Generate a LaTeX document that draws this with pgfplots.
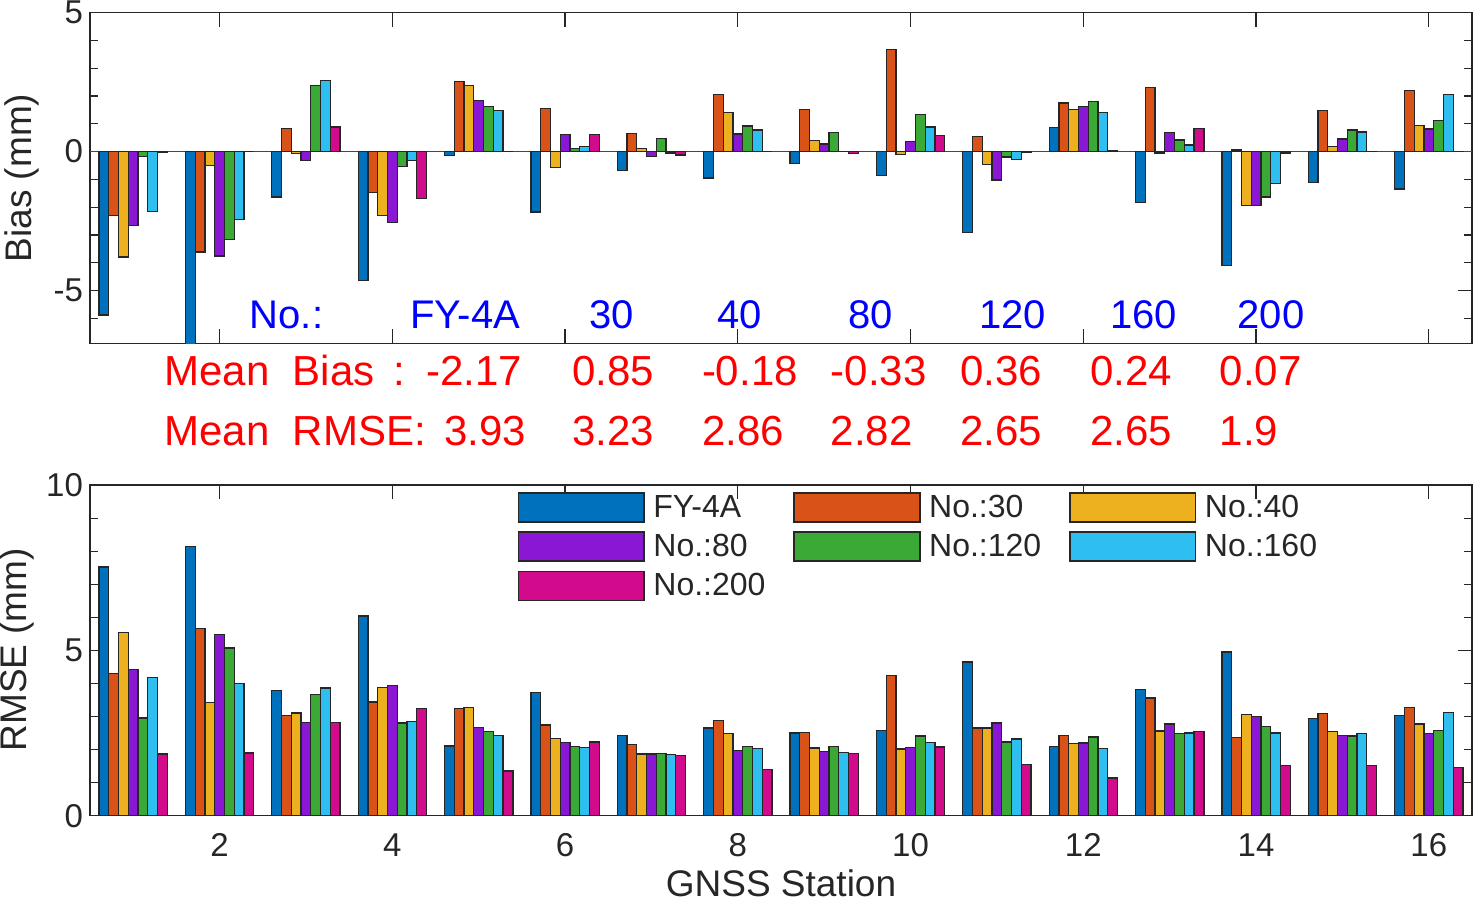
\documentclass[border=0pt]{standalone}
\usepackage{pgfplots}
\pgfplotsset{compat=1.18}
\usepackage{pgfplotstable}
\usepackage{fontspec}
\setmainfont{Liberation Sans}
\definecolor{cA}{HTML}{0072BD}
\definecolor{cB}{HTML}{D95319}
\definecolor{cC}{HTML}{EDB120}
\definecolor{cD}{HTML}{8A17D3}
\definecolor{cE}{HTML}{3BA935}
\definecolor{cF}{HTML}{2FBEF0}
\definecolor{cG}{HTML}{D20A8C}
\definecolor{ax}{HTML}{262626}

\pgfplotstableread{
x a b c d e f g
1 -5.88 -2.29 -3.79 -2.67 -0.18 -2.15 -0.02
2 -7.50 -3.61 -0.51 -3.76 -3.16 -2.44 0.00
3 -1.63 0.82 -0.07 -0.31 2.37 2.56 0.89
4 -4.64 -1.46 -2.30 -2.55 -0.54 -0.31 -1.69
5 -0.14 2.52 2.39 1.83 1.62 1.47 0.00
6 -2.17 1.54 -0.58 0.61 0.10 0.19 0.61
7 -0.67 0.64 0.10 -0.17 0.48 -0.05 -0.12
8 -0.95 2.05 1.42 0.63 0.92 0.78 0.00
9 -0.44 1.52 0.39 0.27 0.70 0.00 -0.06
10 -0.85 3.67 -0.10 0.36 1.33 0.89 0.58
11 -2.91 0.54 -0.47 -1.02 -0.19 -0.28 -0.03
12 0.88 1.75 1.51 1.62 1.81 1.41 0.03
13 -1.83 2.31 -0.05 0.68 0.42 0.24 0.82
14 -4.09 0.06 -1.93 -1.93 -1.63 -1.16 -0.05
15 -1.12 1.47 0.19 0.45 0.78 0.71 0.01
16 -1.35 2.20 0.93 0.81 1.13 2.06 0.01
}\biastable

\pgfplotstableread{
x a b c d e f g
1 7.52 4.31 5.54 4.42 2.96 4.19 1.87
2 8.15 5.66 3.42 5.48 5.07 3.99 1.90
3 3.79 3.04 3.11 2.82 3.66 3.86 2.81
4 6.04 3.44 3.87 3.93 2.80 2.86 3.24
5 2.11 3.25 3.28 2.67 2.55 2.42 1.35
6 3.73 2.74 2.33 2.22 2.09 2.07 2.23
7 2.42 2.15 1.87 1.87 1.89 1.85 1.83
8 2.65 2.88 2.48 1.98 2.10 2.03 1.39
9 2.50 2.52 2.05 1.95 2.09 1.92 1.89
10 2.58 4.24 2.02 2.07 2.41 2.22 2.08
11 4.65 2.65 2.65 2.80 2.23 2.32 1.55
12 2.10 2.43 2.19 2.20 2.38 2.04 1.14
13 3.81 3.56 2.56 2.77 2.48 2.50 2.54
14 4.95 2.36 3.07 3.01 2.69 2.50 1.51
15 2.95 3.10 2.54 2.42 2.41 2.48 1.52
16 3.03 3.28 2.77 2.48 2.58 3.13 1.45
}\rmsetable

\pgfplotsset{
  mybar/.style={ybar, bar width=0.113, draw=ax, line width=0.65pt,
    legend image code/.code={\draw[##1,line width=0.75pt] (0pt,-7.25pt) rectangle (62.85pt,7.25pt);}},
  common/.style={
    scale only axis, width=691pt, height=165.3pt,
    xmin=0.5, xmax=16.5, xtick={2,4,...,16},
    tick align=inside, tick pos=both,
    major tick length=7pt, minor tick length=4pt,
    axis line style={ax, line width=0.75pt},
    every tick/.append style={ax, line width=0.6pt},
    tick label style={font=\fontsize{16.5}{18}\selectfont, text=ax},
    label style={font=\fontsize{18.5}{22}\selectfont, text=ax},
    /pgf/number format/assume math mode=true,
  },
}

\newcommand{\legtext}[1]{\makebox[70pt][l]{#1}}

\begin{document}
\begin{tikzpicture}
\useasboundingbox (0,0) rectangle (737pt,-450pt);

% ---------------- top axis: Bias
\begin{axis}[common, at={(45pt,-171.65pt)}, anchor=south west,
  ymin=-6.9, ymax=5, ytick={-5,0,5},
  minor ytick={-6,-4,-3,-2,-1,1,2,3,4},
  xticklabels={},
  ylabel={Bias (mm)},
  ylabel style={at={(axis description cs:-0.0492,0.5)}, anchor=center},
]
\draw[ax!85!white, line width=0.6pt] (axis cs:0.5,0) -- (axis cs:16.5,0);
\addplot[mybar, fill=cA, bar shift=-0.339] table[x=x,y=a]{\biastable};
\addplot[mybar, fill=cB, bar shift=-0.226] table[x=x,y=b]{\biastable};
\addplot[mybar, fill=cC, bar shift=-0.113] table[x=x,y=c]{\biastable};
\addplot[mybar, fill=cD, bar shift=0]      table[x=x,y=d]{\biastable};
\addplot[mybar, fill=cE, bar shift=0.113]  table[x=x,y=e]{\biastable};
\addplot[mybar, fill=cF, bar shift=0.226]  table[x=x,y=f]{\biastable};
\addplot[mybar, fill=cG, bar shift=0.339]  table[x=x,y=g]{\biastable};
\end{axis}

% ---------------- bottom axis: RMSE
\begin{axis}[common, at={(45pt,-407.85pt)}, anchor=south west,
  ymin=0, ymax=10, ytick={0,5,10},
  minor ytick={1,2,3,4,6,7,8,9},
  ylabel={RMSE (mm)},
  ylabel style={at={(axis description cs:-0.0528,0.502)}, anchor=center},
  xlabel={GNSS Station},
  xlabel style={at={(axis description cs:0.5,-0.243)}, anchor=base, inner sep=0pt, outer sep=0pt},
  xticklabel style={yshift=-5.5pt},
  legend columns=3,
  legend cell align=left,
  legend style={at={(rel axis cs:0.3094,0.978)}, anchor=north west,
    draw=none, fill=none, inner sep=0pt, outer sep=0pt,
    row sep=4.3pt,
    font=\fontsize{16}{19}\selectfont, text=ax,
    nodes={inner sep=0pt},
    /tikz/every odd column/.style={column sep=4.3pt}},
]
\addplot[mybar, fill=cA, bar shift=-0.339] table[x=x,y=a]{\rmsetable};
\addlegendentry{\legtext{FY-4A}}
\addplot[mybar, fill=cB, bar shift=-0.226] table[x=x,y=b]{\rmsetable};
\addlegendentry{\legtext{No.:30}}
\addplot[mybar, fill=cC, bar shift=-0.113] table[x=x,y=c]{\rmsetable};
\addlegendentry{\legtext{No.:40}}
\addplot[mybar, fill=cD, bar shift=0]      table[x=x,y=d]{\rmsetable};
\addlegendentry{\legtext{No.:80}}
\addplot[mybar, fill=cE, bar shift=0.113]  table[x=x,y=e]{\rmsetable};
\addlegendentry{\legtext{No.:120}}
\addplot[mybar, fill=cF, bar shift=0.226]  table[x=x,y=f]{\rmsetable};
\addlegendentry{\legtext{No.:160}}
\addplot[mybar, fill=cG, bar shift=0.339]  table[x=x,y=g]{\rmsetable};
\addlegendentry{\legtext{No.:200}}
\end{axis}

% ---------------- annotations
\begin{scope}[every node/.style={inner sep=0pt, anchor=base west}]
\def\fb{\fontsize{20}{24}\selectfont}
\node[text=blue, font=\fb] at (124.7pt,-164.15pt) {No.:};
\node[text=blue, font=\fb] at (205pt,-164.15pt) {FY-4A};
\node[text=blue, font=\fb] at (294.35pt,-164.15pt) {30};
\node[text=blue, font=\fb] at (358.5pt,-164.15pt) {40};
\node[text=blue, font=\fb] at (424.1pt,-164.15pt) {80};
\node[text=blue, font=\fb] at (489.5pt,-164.15pt) {120};
\node[text=blue, font=\fb] at (554.9pt,-164.15pt) {160};
\node[text=blue, font=\fb] at (618.6pt,-164.15pt) {200};
\def\fr{\fontsize{21}{25}\selectfont}
\node[text=red, font=\fr] at (82pt,-192.5pt) {Mean~~Bias~~\kern-2pt:};
\node[text=red, font=\fr] at (212.85pt,-192.5pt) {-2.17};
\node[text=red, font=\fr] at (286pt,-192.5pt) {0.85};
\node[text=red, font=\fr] at (350.8pt,-192.5pt) {-0.18};
\node[text=red, font=\fr] at (415.15pt,-192.5pt) {-0.33};
\node[text=red, font=\fr] at (480pt,-192.5pt) {0.36};
\node[text=red, font=\fr] at (545pt,-192.5pt) {0.24};
\node[text=red, font=\fr] at (609.75pt,-192.5pt) {0.07};
\node[text=red, font=\fr] at (82pt,-222.5pt) {Mean~~RMSE:};
\node[text=red, font=\fr] at (221.8pt,-222.5pt) {3.93};
\node[text=red, font=\fr] at (286pt,-222.5pt) {3.23};
\node[text=red, font=\fr] at (350.8pt,-222.5pt) {2.86};
\node[text=red, font=\fr] at (415.15pt,-222.5pt) {2.82};
\node[text=red, font=\fr] at (480pt,-222.5pt) {2.65};
\node[text=red, font=\fr] at (545pt,-222.5pt) {2.65};
\node[text=red, font=\fr] at (609.75pt,-222.5pt) {1.9};
\end{scope}
\end{tikzpicture}
\end{document}
